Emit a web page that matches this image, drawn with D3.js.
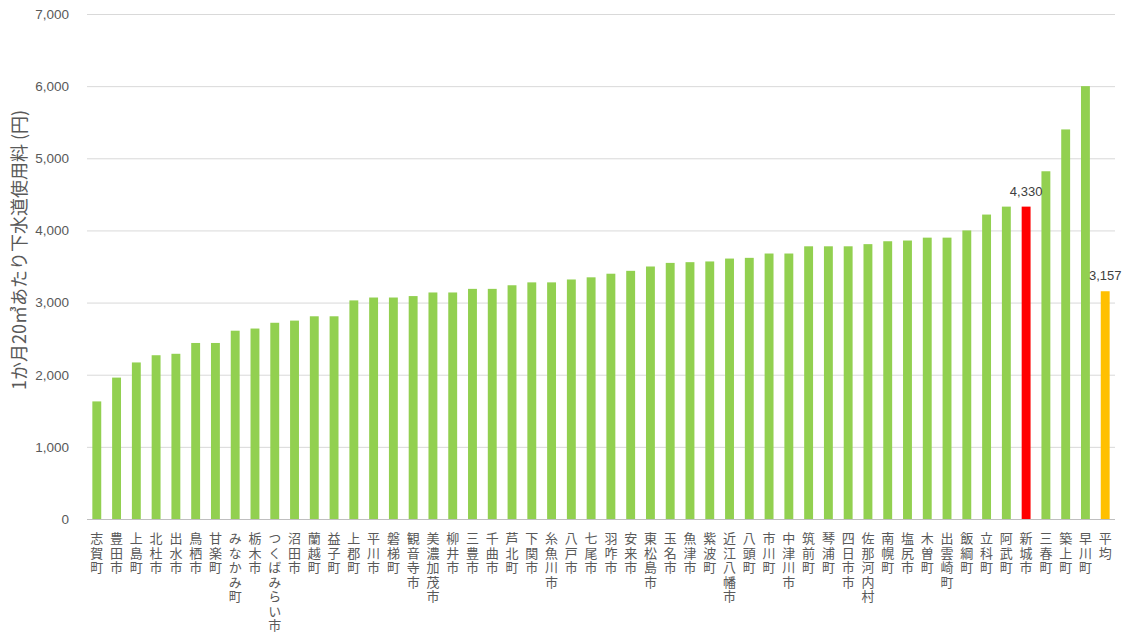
<!DOCTYPE html>
<html><head><meta charset="utf-8">
<script src="https://cdn.jsdelivr.net/npm/d3@7"></script>
<style>
html,body{margin:0;padding:0;background:#fff;}
svg{display:block;font-family:"Noto Sans CJK JP","Noto Sans",sans-serif;}
</style></head>
<body>
<svg id="chart" width="1124" height="633"></svg>
<script>
const categories = ["志賀町","豊田市","上島町","北杜市","出水市","鳥栖市","甘楽町","みなかみ町","栃木市","つくばみらい市","沼田市","蘭越町","益子町","上郡町","平川市","磐梯町","観音寺市","美濃加茂市","柳井市","三豊市","千曲市","芦北町","下関市","糸魚川市","八戸市","七尾市","羽咋市","安来市","東松島市","玉名市","魚津市","紫波町","近江八幡市","八頭町","市川町","中津川市","筑前町","琴浦町","四日市市","佐那河内村","南幌町","塩尻市","木曽町","出雲崎町","飯綱町","立科町","阿武町","新城市","三春町","築上町","早川町","平均"];
const values = [1630,1960,2170,2270,2290,2440,2440,2610,2640,2720,2750,2810,2810,3030,3070,3070,3090,3140,3140,3190,3190,3240,3280,3280,3320,3350,3400,3440,3500,3550,3560,3570,3610,3620,3680,3680,3780,3780,3780,3810,3850,3860,3900,3900,4000,4220,4330,4330,4820,5400,6000,3157];
const highlight = {"新城市":"#FF0000","平均":"#FFC000"};
const labelled = ["新城市","平均"];
const labelValues = {"新城市":4330,"平均":3157};
const yTicks = [0,1000,2000,3000,4000,5000,6000,7000];
const yTitle = "1か月20㎥あたり下水道使用料 (円)";

const svg = d3.select("#chart");
const mLeft = 87, mRight = 1115, mTop = 14, mBottom = 519;
const x = d3.scaleBand().domain(categories).range([mLeft, mRight]).paddingInner(0.55).paddingOuter(0.27);
const y = d3.scaleLinear().domain([0, 7000]).range([mBottom, mTop]);
const fmt = d3.format(",");

// gridlines
const yAxis = d3.axisLeft(y).tickValues(yTicks).tickSize(-(mRight-mLeft)).tickFormat(fmt).tickPadding(18);
const gy = svg.append("g").attr("transform", `translate(${mLeft},0)`).call(yAxis);
gy.select(".domain").remove();
gy.selectAll(".tick line").attr("stroke", d => d === 0 ? "#bfbfbf" : "#d9d9d9").attr("stroke-width", 1);
gy.selectAll(".tick text").attr("fill", "#595959").attr("font-size", 13.5).attr("font-family", "Liberation Sans, Arial, sans-serif");

// bars
svg.append("g").selectAll("rect").data(categories).join("rect")
  .attr("x", d => x(d))
  .attr("width", x.bandwidth())
  .attr("y", (d,i) => y(values[i]))
  .attr("height", (d,i) => y(0) - y(values[i]))
  .attr("fill", d => highlight[d] || "#92D050");

// data labels
svg.append("g").selectAll("text").data(labelled).join("text")
  .attr("x", d => x(d) + x.bandwidth()/2)
  .attr("y", d => y(labelValues[d]) - 11)
  .attr("text-anchor", "middle")
  .attr("fill", "#404040")
  .attr("font-size", 13)
  .attr("font-family", "Liberation Sans, Arial, sans-serif")
  .text(d => fmt(labelValues[d]));

// vertical category labels: one vertical-mode text per character
const xl = svg.append("g");
categories.forEach(c => {
  const cx = x(c) + x.bandwidth()/2;
  Array.from(c).forEach((ch, k) => {
    xl.append("text")
      .attr("x", cx)
      .attr("y", 532 + k * 14.5)
      .attr("text-anchor", "start")
      .style("writing-mode", "vertical-rl")
      .style("text-orientation", "upright")
      .attr("fill", "#595959")
      .attr("font-size", 13)
      .text(ch);
  });
});

// y title
svg.append("text")
  .attr("transform", `translate(26,250) rotate(-90)`)
  .attr("text-anchor", "middle")
  .attr("fill", "#595959")
  .attr("font-size", 18)
  .text(yTitle);
</script>
</body></html>
